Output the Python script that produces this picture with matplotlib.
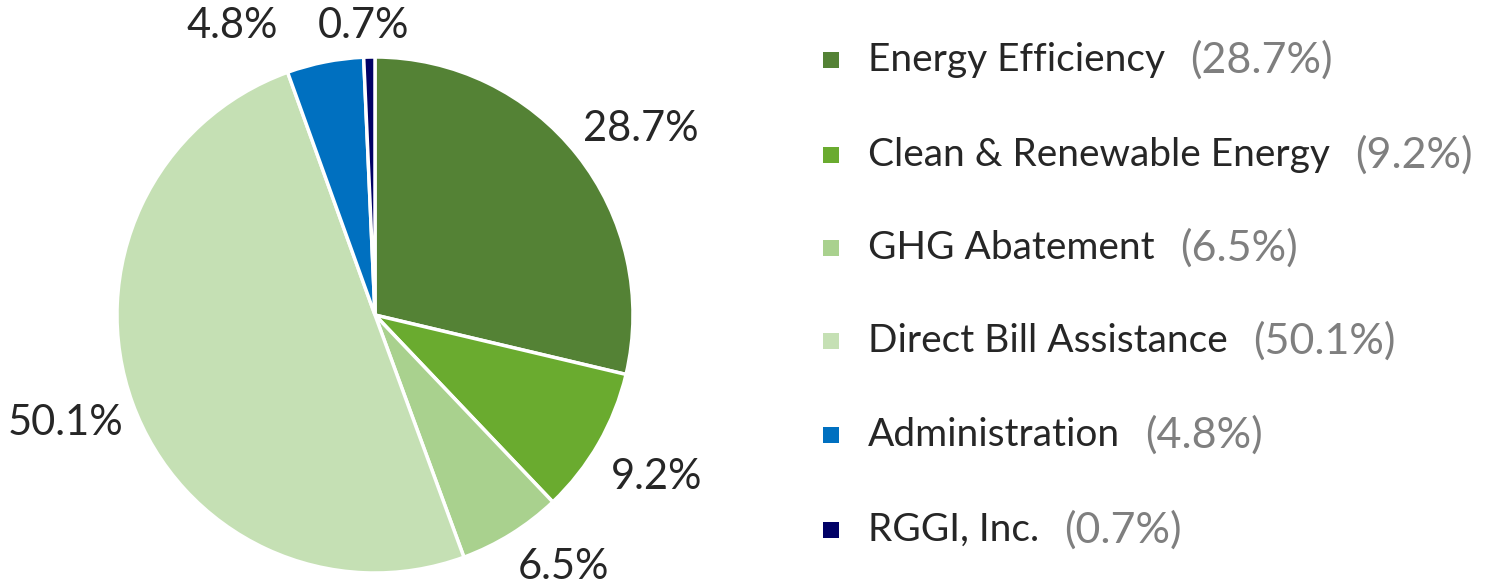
import matplotlib
matplotlib.use("Agg")
import matplotlib.pyplot as plt
from matplotlib.patches import Rectangle

categories = ["Energy Efficiency", "Clean & Renewable Energy", "GHG Abatement",
              "Direct Bill Assistance", "Administration", "RGGI, Inc."]
shares = [28.7, 9.2, 6.5, 50.1, 4.8, 0.7]
colors = ["#548235", "#6aab2f", "#a9d18e", "#c5e0b4", "#0070c0", "#000066"]

plt.rcParams['font.family'] = ['Lato', 'DejaVu Sans']
W, H = 1501, 587
fig = plt.figure(figsize=(W / 100, H / 100), dpi=100)

# pie axes: centre (375, 315), radius 258 px
cx, cy, r = 375, 315, 258
ax = fig.add_axes([(cx - r) / W, (H - cy - r) / H, 2 * r / W, 2 * r / H])
wedges, texts, autotexts = ax.pie(
    shares, colors=colors, startangle=90, counterclock=False,
    autopct=lambda p: f"{p:.1f}%", pctdistance=1.26,
    wedgeprops=dict(edgecolor="white", linewidth=2.5),
    textprops=dict(fontsize=30, color="#262626"))
ax.set_xlim(-1, 1)
ax.set_ylim(-1, 1)
ax.set_aspect("auto")
# Excel nudges the labels around the rim
autotexts[0].set_position((1.03, 0.72))
autotexts[2].set_position((0.73, -0.975))
autotexts[3].set_position((-1.2, -0.42))
autotexts[4].set_position((-0.555, 1.12))
autotexts[5].set_position((-0.045, 1.12))

# legend drawn by hand
row_y = [60, 155, 248, 341, 435, 530]
fig.canvas.draw()
renderer = fig.canvas.get_renderer()
for name, val, col, y in zip(categories, shares, colors, row_y):
    fy = (H - y) / H
    fig.patches.append(Rectangle((823 / W, fy - 8 / H), 16 / W, 16 / H,
                                 transform=fig.transFigure, facecolor=col,
                                 edgecolor="none"))
    t = fig.text(868 / W, fy, name, fontsize=28, color="#262626", va="center")
    bb = t.get_window_extent(renderer)
    fig.text((bb.x1 + 25) / W, fy, f"({val}%)", fontsize=31,
             color="#7f7f7f", va="center")

fig.savefig("out.png", dpi=100)
